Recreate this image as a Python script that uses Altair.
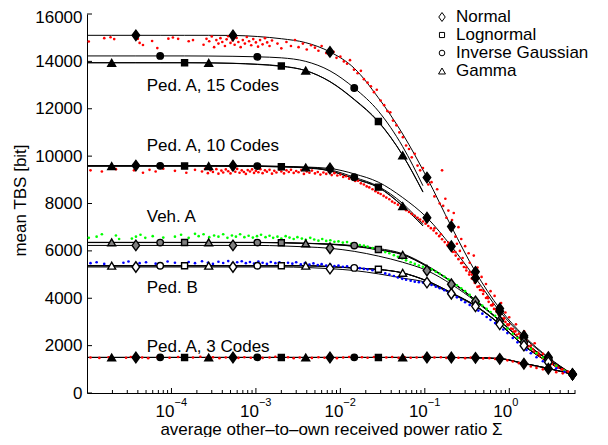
import altair as alt
import pandas as pd

FONT = "Liberation Sans"

# ---------------- data ----------------
SIGMA = [1.0e-5, 1.96e-5, 3.79e-5, 7.35e-5, 1.43e-4, 2.76e-4, 5.35e-4, 1.04e-3,
         2.0e-3, 3.89e-3, 7.53e-3, 1.46e-2, 2.82e-2, 5.47e-2, 0.106, 0.206,
         0.398, 0.771, 1.49, 2.90, 5.61]
SIGMA_CUT = [1.0e-5, 1.96e-5, 3.79e-5, 7.35e-5, 1.43e-4, 2.76e-4, 5.35e-4, 1.04e-3,
             2.0e-3, 3.89e-3, 7.53e-3, 1.46e-2, 2.82e-2, 5.47e-2, 0.095]

PEDA15_NORMAL = [15100, 15100, 15100, 15100, 15100, 15100, 15095, 15050, 14956, 14790, 14400,
                 13710, 12460, 10935, 9094, 7027, 5114, 3563, 2412, 1509, 790]
PEDA15_LOGNORMAL = [13945, 13945, 13945, 13945, 13945, 13940, 13920, 13880, 13805, 13610, 13150,
                    12400, 11464, 10040, 8500]
PEDA15_INVGAUSS = [14230, 14230, 14230, 14230, 14230, 14225, 14215, 14192, 14150, 14000, 13600,
                   12877, 11900, 10400, 8750]
PEDA15_GAMMA = [13940, 13940, 13940, 13940, 13940, 13935, 13915, 13870, 13790, 13610, 13140,
                12380, 11440, 10033, 8480]

PEDA10_NORMAL = [9600, 9600, 9600, 9600, 9600, 9600, 9595, 9590, 9570, 9540, 9480,
                 9250, 8900, 8250, 7401, 6195, 4850, 3450, 2350, 1480, 790]
PEDA10_LOGNORMAL = [9580, 9580, 9580, 9580, 9580, 9580, 9575, 9570, 9550, 9500, 9380,
                    9050, 8690, 7900, 7060]
PEDA10_INVGAUSS = [9590, 9590, 9590, 9590, 9590, 9590, 9585, 9580, 9560, 9520, 9420,
                   9106, 8720, 8000, 7120]
PEDA10_GAMMA = [9580, 9580, 9580, 9580, 9580, 9580, 9575, 9568, 9545, 9522, 9370,
                9040, 8670, 7888, 7050]

VEHA_NORMAL = [6230, 6230, 6230, 6230, 6230, 6230, 6230, 6230, 6210, 6170, 6110,
               5980, 5780, 5520, 5170, 4590, 3870, 3040, 2140, 1400, 790]
VEHA_LOGNORMAL = [6355, 6355, 6355, 6355, 6355, 6355, 6355, 6355, 6345, 6320, 6280,
                  6200, 6058, 5850, 5350, 4700, 3920, 3060, 2150, 1400, 790]
VEHA_INVGAUSS = [6350, 6350, 6350, 6350, 6350, 6350, 6350, 6350, 6345, 6320, 6290,
                 6224, 6100, 5880, 5380, 4720, 3930, 3070, 2160, 1410, 790]
VEHA_GAMMA = [6360, 6360, 6360, 6360, 6360, 6360, 6360, 6360, 6345, 6315, 6275,
              6190, 6040, 5834, 5340, 4690, 3910, 3050, 2150, 1400, 790]

PEDB_NORMAL = [5320, 5320, 5320, 5320, 5320, 5320, 5320, 5320, 5320, 5300, 5250,
               5170, 5030, 4850, 4660, 4190, 3660, 2900, 2000, 1300, 790]
PEDB_LOGNORMAL = [5370, 5370, 5370, 5370, 5370, 5370, 5370, 5370, 5370, 5370, 5335,
                  5275, 5226, 5065, 4730, 4230, 3680, 2910, 2005, 1305, 790]
PEDB_INVGAUSS = [5370, 5370, 5370, 5370, 5370, 5370, 5370, 5370, 5370, 5370, 5340,
                 5281, 5215, 5070, 4740, 4240, 3690, 2920, 2010, 1310, 790]
PEDB_GAMMA = [5375, 5375, 5375, 5375, 5375, 5375, 5375, 5375, 5375, 5375, 5335,
              5270, 5210, 5073, 4720, 4220, 3680, 2910, 2005, 1305, 790]

PEDA3_NORMAL = [1500, 1500, 1500, 1500, 1500, 1500, 1500, 1500, 1500, 1500, 1500,
                1500, 1500, 1500, 1500, 1500, 1484, 1443, 1235, 1026, 790]
PEDA3_LOGNORMAL = [1500, 1500, 1500, 1500, 1500, 1500, 1500, 1500, 1500, 1500, 1500,
                   1500, 1500, 1500, 1500, 1500, 1490, 1455, 1250, 1040, 790]
PEDA3_INVGAUSS = [1505, 1505, 1505, 1505, 1505, 1505, 1505, 1505, 1505, 1505, 1505,
                  1505, 1505, 1505, 1505, 1500, 1490, 1455, 1250, 1040, 790]
PEDA3_GAMMA = [1500, 1500, 1500, 1500, 1500, 1500, 1500, 1500, 1500, 1500, 1500,
               1500, 1500, 1500, 1500, 1500, 1490, 1455, 1250, 1040, 790]

# marker positions (indices into the curve arrays)
MARKER_IDX = {
    "Normal": [2, 6, 10, 14, 15, 16, 17, 18, 19, 20],
    "Lognormal": [4, 8, 12],
    "Inverse Gaussian": [3, 7, 11],
    "Gamma": [1, 5, 9, 13],
}

PEDA15_DOTS = [
    (1.05e-5, 14840), (1.6e-5, 14980), (1.9e-5, 15020), (2.1e-5, 14940), (4.0e-5, 14950),
    (4.2e-5, 14780), (4.6e-5, 14690), (5.9e-5, 14860), (6.8e-5, 14560), (9.2e-5, 14960),
    (1.04e-4, 15010), (1.2e-4, 14950), (1.6e-4, 14850), (1.8e-4, 14900),
    (2.4e-4, 14700), (2.6e-4, 14950), (2.8e-4, 14850), (3.0e-4, 15050), (3.2e-4, 14600),
    (3.4e-4, 14900), (3.6e-4, 14750), (3.8e-4, 14980), (4.0e-4, 14820), (4.3e-4, 14650),
    (4.5e-4, 14930), (4.7e-4, 15060), (5.0e-4, 14780), (5.3e-4, 14880), (5.6e-4, 14700),
    (5.9e-4, 14990), (6.2e-4, 14820), (6.6e-4, 14600), (7.0e-4, 14900), (7.4e-4, 14750),
    (7.8e-4, 15030), (8.3e-4, 14850), (8.8e-4, 14680), (9.3e-4, 14940), (1.0e-3, 14800),
    (1.06e-3, 14620), (1.12e-3, 14900), (1.2e-3, 14720), (1.28e-3, 14980), (1.36e-3, 14800),
    (1.45e-3, 14650), (1.55e-3, 14880),
    (1.8e-3, 14750), (2.0e-3, 14550), (2.3e-3, 14820), (2.6e-3, 14650), (2.9e-3, 14900),
    (3.2e-3, 14600), (3.6e-3, 14750), (4.0e-3, 14500), (4.5e-3, 14680), (5.0e-3, 14580),
    (5.5e-3, 14450), (6.0e-3, 14650),
    (6.8e-3, 14350), (7.5e-3, 14250), (8.3e-3, 14400), (9.0e-3, 14150), (1.0e-2, 14200),
    (1.1e-2, 14000), (1.2e-2, 13900), (1.3e-2, 14050), (1.45e-2, 13650), (1.6e-2, 13500),
    (1.75e-2, 13600), (1.9e-2, 13250), (2.1e-2, 13100), (2.3e-2, 12950), (2.5e-2, 12700),
    (2.7e-2, 12800), (3.0e-2, 12350), (3.3e-2, 12150), (3.6e-2, 11900), (3.9e-2, 11850),
    (4.2e-2, 11500), (4.6e-2, 11300), (5.0e-2, 11000), (5.5e-2, 10800), (6.0e-2, 10450),
    (6.5e-2, 10300), (7.0e-2, 9950), (7.6e-2, 10100), (8.2e-2, 9600), (8.8e-2, 9400),
    (9.5e-2, 9500), (0.1, 9100), (0.11, 8800), (0.12, 8900), (0.13, 8300),
    (0.14, 8600), (0.15, 8000), (0.16, 9400), (0.165, 7900), (0.175, 8200), (0.18, 7400),
    (0.19, 7700), (0.2, 6900), (0.21, 7300), (0.22, 7600), (0.23, 6600), (0.24, 6300),
    (0.25, 7000), (0.26, 6000), (0.27, 6500), (0.28, 5700), (0.3, 6200), (0.31, 5300),
    (0.33, 5900), (0.34, 5500), (0.36, 5000), (0.38, 5800), (0.4, 4700), (0.42, 5300),
    (0.44, 4500), (0.47, 4900), (0.5, 4300), (0.53, 4600), (0.56, 4000), (0.6, 4300),
    (0.63, 3700), (0.67, 4100), (0.7, 3500), (0.75, 3300), (0.8, 3800), (0.85, 3100),
    (0.9, 3400), (0.95, 2900), (1.0, 3200), (1.1, 2700), (1.2, 2900), (1.3, 2500),
    (1.4, 2300), (1.5, 2600), (1.6, 2200), (1.8, 2000), (2.0, 2100), (2.2, 1700),
    (2.5, 1650), (2.8, 1400), (3.2, 1300), (3.6, 1150), (4.2, 1000), (5.0, 900), (5.6, 800),
]

PEDA10_DOTS = [
    (1.1e-5, 9400), (1.5e-5, 9350), (2.2e-5, 9450), (3.6e-5, 9400), (4.6e-5, 9300),
    (5.5e-5, 9420), (6.5e-5, 9350), (8.0e-5, 9470), (1.1e-4, 9380), (1.5e-4, 9300),
    (1.9e-4, 9420), (2.3e-4, 9350), (2.5e-4, 9460), (2.7e-4, 9280), (2.9e-4, 9400),
    (3.1e-4, 9330), (3.4e-4, 9450), (3.6e-4, 9260), (3.9e-4, 9390), (4.1e-4, 9310),
    (4.4e-4, 9440), (4.7e-4, 9360), (5.0e-4, 9270), (5.3e-4, 9420), (5.7e-4, 9340),
    (6.0e-4, 9460), (6.4e-4, 9300), (6.8e-4, 9400), (7.2e-4, 9330), (7.6e-4, 9250),
    (8.0e-4, 9410), (8.5e-4, 9350), (9.0e-4, 9440), (9.5e-4, 9290), (1.0e-3, 9380),
    (1.07e-3, 9320), (1.13e-3, 9450), (1.2e-3, 9280), (1.28e-3, 9400), (1.35e-3, 9340),
    (1.45e-3, 9420), (1.55e-3, 9260), (1.65e-3, 9380), (1.75e-3, 9310), (1.9e-3, 9430),
    (2.0e-3, 9350), (2.15e-3, 9270), (2.3e-3, 9400), (2.45e-3, 9330), (2.6e-3, 9420),
    (2.8e-3, 9290), (3.0e-3, 9370), (3.2e-3, 9320), (3.45e-3, 9410), (3.7e-3, 9250),
    (4.0e-3, 9350), (4.3e-3, 9300), (4.6e-3, 9390), (5.0e-3, 9270), (5.4e-3, 9330),
    (5.8e-3, 9220), (6.3e-3, 9310), (6.8e-3, 9250), (7.3e-3, 9330), (7.9e-3, 9200),
    (8.5e-3, 9280), (9.2e-3, 9180), (1.0e-2, 9220), (1.08e-2, 9120), (1.17e-2, 9150),
    (1.27e-2, 9050), (1.38e-2, 9070), (1.5e-2, 8950), (1.62e-2, 8960), (1.75e-2, 8850),
    (1.9e-2, 8800), (2.05e-2, 8720), (2.2e-2, 8680), (2.4e-2, 8600), (2.6e-2, 8520),
    (2.8e-2, 8450), (3.0e-2, 8400), (3.25e-2, 8320), (3.5e-2, 8250), (3.8e-2, 8180),
    (4.1e-2, 8080), (4.4e-2, 8020), (4.8e-2, 7950), (5.2e-2, 7870), (5.6e-2, 7800),
    (6.0e-2, 7720), (6.5e-2, 7640), (7.0e-2, 7560), (7.6e-2, 7480), (8.2e-2, 7400),
    (8.8e-2, 7320), (9.5e-2, 7240), (0.102, 7150), (0.11, 7050), (0.118, 6960),
    (0.127, 6860), (0.137, 6740), (0.148, 6620), (0.16, 6490), (0.172, 6370),
    (0.185, 6240), (0.2, 6100), (0.215, 5960), (0.232, 5800), (0.25, 5650), (0.27, 5480),
    (0.29, 5320), (0.31, 5170), (0.335, 5000), (0.36, 4830), (0.39, 4650), (0.42, 4480),
    (0.45, 4350), (0.49, 4180), (0.53, 4010), (0.57, 3850), (0.61, 3700), (0.66, 3550),
    (0.71, 3420), (0.77, 3280), (0.83, 3140), (0.9, 3000), (0.97, 2860), (1.05, 2720),
    (1.13, 2590), (1.22, 2460), (1.32, 2330), (1.43, 2210), (1.55, 2090), (1.68, 1970),
    (1.82, 1860), (1.97, 1750), (2.13, 1650), (2.3, 1560), (2.5, 1470), (2.7, 1390),
    (2.95, 1300), (3.2, 1220), (3.5, 1140), (3.8, 1070), (4.2, 990), (4.6, 920),
    (5.1, 850), (5.5, 800),
    (0.105, 7300), (0.13, 6950), (0.155, 6700), (0.19, 6350), (0.23, 5950), (0.28, 5500),
    (0.34, 5100), (0.4, 4700), (0.47, 4350), (0.55, 4050), (0.64, 3750), (0.75, 3420),
    (0.87, 3150), (1.0, 2900), (1.18, 2600), (1.38, 2350), (1.6, 2100), (1.9, 1850),
    (2.2, 1650), (2.6, 1480), (3.0, 1330), (3.6, 1150), (4.4, 980),
]

VEHA_DOTS = [
    (1.05e-5, 6550), (1.3e-5, 6600), (1.5e-5, 6700), (2.2e-5, 6650), (2.4e-5, 6500),
    (3.4e-5, 6520), (3.8e-5, 6600), (4.3e-5, 6680), (4.9e-5, 6550), (6.0e-5, 6620),
    (8.0e-5, 6560), (1.1e-4, 6600), (1.3e-4, 6680), (1.6e-4, 6550), (1.9e-4, 6720),
    (2.1e-4, 6620), (2.4e-4, 6700), (2.8e-4, 6580), (3.2e-4, 6650), (3.6e-4, 6600),
    (4.1e-4, 6700), (4.6e-4, 6550), (5.2e-4, 6650), (5.8e-4, 6600), (6.5e-4, 6700),
    (7.3e-4, 6580), (8.2e-4, 6640), (9.2e-4, 6560), (1.03e-3, 6620), (1.15e-3, 6680),
    (1.3e-3, 6580), (1.45e-3, 6640), (1.6e-3, 6550), (1.8e-3, 6600), (2.0e-3, 6520),
    (2.25e-3, 6620), (2.5e-3, 6560), (2.8e-3, 6500), (3.1e-3, 6580), (3.5e-3, 6520),
    (3.9e-3, 6470), (4.4e-3, 6550), (4.9e-3, 6480), (5.5e-3, 6430), (6.1e-3, 6500),
    (6.8e-3, 6420), (7.6e-3, 6450), (8.5e-3, 6380), (9.5e-3, 6400), (1.07e-2, 6350),
    (1.2e-2, 6370), (1.35e-2, 6300), (1.5e-2, 6320), (1.7e-2, 6250), (1.9e-2, 6220),
    (2.1e-2, 6180), (2.4e-2, 6120), (2.7e-2, 6080), (3.0e-2, 6020), (3.4e-2, 5950),
    (3.8e-2, 5900), (4.3e-2, 5820), (4.8e-2, 5750), (5.4e-2, 5680), (6.0e-2, 5600),
    (6.8e-2, 5520), (7.6e-2, 5450), (8.5e-2, 5380), (9.5e-2, 5330),
    (0.105, 5300), (0.12, 5220), (0.135, 5120), (0.15, 5030), (0.17, 4920), (0.19, 4800),
    (0.21, 4680), (0.24, 4550), (0.27, 4420), (0.3, 4300), (0.34, 4140), (0.38, 3980),
    (0.43, 3820), (0.48, 3690), (0.54, 3550), (0.6, 3420), (0.68, 3260), (0.76, 3090),
    (0.85, 2900), (0.95, 2720), (1.1, 2500), (1.25, 2320), (1.4, 2200), (1.6, 2000),
    (1.8, 1860), (2.1, 1680), (2.5, 1500), (3.0, 1330), (3.6, 1150), (4.5, 950), (5.3, 820),
]

PEDB_DOTS = [
    (1.1e-5, 5480), (1.3e-5, 5520), (1.6e-5, 5450), (2.7e-5, 5500), (3.1e-5, 5550),
    (4.2e-5, 5480), (5.0e-5, 5520), (6.5e-5, 5460), (9.0e-5, 5550), (1.1e-4, 5500),
    (1.35e-4, 5450), (1.6e-4, 5530), (1.9e-4, 5480), (2.3e-4, 5560), (2.7e-4, 5500),
    (3.1e-4, 5450), (3.6e-4, 5540), (4.1e-4, 5490), (4.7e-4, 5570), (5.3e-4, 5470),
    (6.0e-4, 5520), (6.8e-4, 5560), (7.6e-4, 5480), (8.5e-4, 5530), (9.5e-4, 5460),
    (1.07e-3, 5550), (1.2e-3, 5500), (1.35e-3, 5450), (1.5e-3, 5530), (1.7e-3, 5480),
    (1.9e-3, 5520), (2.1e-3, 5440), (2.4e-3, 5500), (2.7e-3, 5460), (3.0e-3, 5520),
    (3.4e-3, 5430), (3.8e-3, 5480), (4.3e-3, 5420), (4.8e-3, 5470), (5.4e-3, 5400),
    (6.0e-3, 5440), (6.8e-3, 5380), (7.6e-3, 5420), (8.5e-3, 5360), (9.5e-3, 5380),
    (1.07e-2, 5330), (1.2e-2, 5350), (1.35e-2, 5300), (1.5e-2, 5310), (1.7e-2, 5270),
    (1.9e-2, 5240), (2.1e-2, 5220), (2.4e-2, 5180), (2.7e-2, 5140), (3.0e-2, 5100),
    (3.4e-2, 5050), (3.8e-2, 5000), (4.3e-2, 4940), (4.8e-2, 4880), (5.4e-2, 4820),
    (6.0e-2, 4780), (6.8e-2, 4740), (7.6e-2, 4700), (8.5e-2, 4680), (9.5e-2, 4660),
    (0.105, 4630), (0.12, 4560), (0.135, 4490), (0.15, 4420), (0.17, 4340), (0.19, 4250),
    (0.21, 4160), (0.24, 4040), (0.27, 3930), (0.3, 3830), (0.34, 3720), (0.38, 3620),
    (0.43, 3480), (0.48, 3350), (0.54, 3210), (0.6, 3090), (0.68, 2950), (0.76, 2830),
    (0.85, 2680), (0.95, 2530), (1.1, 2320), (1.25, 2140), (1.4, 1990), (1.6, 1820),
    (1.8, 1680), (2.1, 1510), (2.5, 1340), (3.0, 1180), (3.6, 1040), (4.5, 890), (5.3, 800),
]

PEDA3_DOTS = [
    (1.1e-5, 1500), (1.4e-5, 1480), (1.8e-5, 1510), (2.9e-5, 1490), (3.3e-5, 1520),
    (4.5e-5, 1500), (5.3e-5, 1470), (6.8e-5, 1510), (9.5e-5, 1490), (1.2e-4, 1520),
    (1.5e-4, 1480), (1.8e-4, 1500), (2.2e-4, 1530), (2.6e-4, 1490), (3.1e-4, 1510),
    (3.7e-4, 1470), (4.4e-4, 1500), (5.2e-4, 1520), (6.2e-4, 1480), (7.3e-4, 1510),
    (8.7e-4, 1490), (1.03e-3, 1520), (1.2e-3, 1480), (1.45e-3, 1500), (1.7e-3, 1530),
    (2.0e-3, 1490), (2.4e-3, 1510), (2.8e-3, 1470), (3.3e-3, 1500), (3.9e-3, 1520),
    (4.6e-3, 1480), (5.5e-3, 1510), (6.5e-3, 1490), (7.7e-3, 1520), (9.1e-3, 1470),
    (1.08e-2, 1500), (1.27e-2, 1520), (1.5e-2, 1480), (1.8e-2, 1510), (2.1e-2, 1490),
    (2.5e-2, 1520), (3.0e-2, 1470), (3.5e-2, 1500), (4.1e-2, 1520), (4.9e-2, 1480),
    (5.8e-2, 1510), (6.8e-2, 1490), (8.0e-2, 1500), (9.5e-2, 1520), (0.112, 1470),
    (0.13, 1500), (0.155, 1510), (0.18, 1480), (0.21, 1500), (0.25, 1490), (0.3, 1470),
    (0.35, 1500), (0.41, 1480), (0.49, 1460), (0.58, 1470), (0.68, 1440), (0.8, 1430),
    (0.95, 1380), (1.1, 1330), (1.3, 1260), (1.5, 1200), (1.8, 1120), (2.1, 1060),
    (2.5, 1000), (3.0, 940), (3.6, 880), (4.3, 830), (5.2, 790),
]

SCENARIOS = ["Ped. A, 15 Codes", "Ped. A, 10 Codes", "Veh. A", "Ped. B", "Ped. A, 3 Codes"]
DISTS = ["Normal", "Lognormal", "Inverse Gaussian", "Gamma"]

LABEL_X = [5.1e-5, 5.1e-5, 5.1e-5, 5.1e-5, 5.1e-5]
LABEL_Y = [12950, 10410, 7430, 4450, 1950]

Y_TICKS = [0, 2000, 4000, 6000, 8000, 10000, 12000, 14000, 16000]
X_MAJOR = [1e-4, 1e-3, 1e-2, 1e-1, 1.0]
X_EXP = ["\u22124", "\u22123", "\u22122", "\u22121", "0"]
X_MINOR = [2e-5, 3e-5, 4e-5, 5e-5, 6e-5, 7e-5, 8e-5, 9e-5,
           2e-4, 3e-4, 4e-4, 5e-4, 6e-4, 7e-4, 8e-4, 9e-4,
           2e-3, 3e-3, 4e-3, 5e-3, 6e-3, 7e-3, 8e-3, 9e-3,
           2e-2, 3e-2, 4e-2, 5e-2, 6e-2, 7e-2, 8e-2, 9e-2,
           0.2, 0.3, 0.4, 0.5, 0.6, 0.7, 0.8, 0.9,
           2.0, 3.0, 4.0, 5.0, 6.0]

# ---------------- tables ----------------
CURVES = [
    ("Ped. A, 15 Codes", "Normal", SIGMA, PEDA15_NORMAL),
    ("Ped. A, 15 Codes", "Lognormal", SIGMA_CUT, PEDA15_LOGNORMAL),
    ("Ped. A, 15 Codes", "Inverse Gaussian", SIGMA_CUT, PEDA15_INVGAUSS),
    ("Ped. A, 15 Codes", "Gamma", SIGMA_CUT, PEDA15_GAMMA),
    ("Ped. A, 10 Codes", "Normal", SIGMA, PEDA10_NORMAL),
    ("Ped. A, 10 Codes", "Lognormal", SIGMA_CUT, PEDA10_LOGNORMAL),
    ("Ped. A, 10 Codes", "Inverse Gaussian", SIGMA_CUT, PEDA10_INVGAUSS),
    ("Ped. A, 10 Codes", "Gamma", SIGMA_CUT, PEDA10_GAMMA),
    ("Veh. A", "Normal", SIGMA, VEHA_NORMAL),
    ("Veh. A", "Lognormal", SIGMA, VEHA_LOGNORMAL),
    ("Veh. A", "Inverse Gaussian", SIGMA, VEHA_INVGAUSS),
    ("Veh. A", "Gamma", SIGMA, VEHA_GAMMA),
    ("Ped. B", "Normal", SIGMA, PEDB_NORMAL),
    ("Ped. B", "Lognormal", SIGMA, PEDB_LOGNORMAL),
    ("Ped. B", "Inverse Gaussian", SIGMA, PEDB_INVGAUSS),
    ("Ped. B", "Gamma", SIGMA, PEDB_GAMMA),
    ("Ped. A, 3 Codes", "Normal", SIGMA, PEDA3_NORMAL),
    ("Ped. A, 3 Codes", "Lognormal", SIGMA, PEDA3_LOGNORMAL),
    ("Ped. A, 3 Codes", "Inverse Gaussian", SIGMA, PEDA3_INVGAUSS),
    ("Ped. A, 3 Codes", "Gamma", SIGMA, PEDA3_GAMMA),
]

line_rows, marker_rows = [], []
for scen, dist, xs, ys in CURVES:
    for x, y in zip(xs, ys):
        line_rows.append({"x": x, "y": y, "curve": scen + " | " + dist})
    for i in MARKER_IDX[dist]:
        if i < len(ys):
            marker_rows.append({"x": xs[i], "y": ys[i], "scen": scen, "dist": dist})
lines_df = pd.DataFrame(line_rows)
markers_df = pd.DataFrame(marker_rows)

dot_rows = []
for name, pts in [("PA15", PEDA15_DOTS), ("PA10", PEDA10_DOTS), ("VA", VEHA_DOTS),
                  ("PB", PEDB_DOTS), ("PA3", PEDA3_DOTS)]:
    for x, y in pts:
        dot_rows.append({"x": x, "y": y, "series": name})
dots_df = pd.DataFrame(dot_rows)

labels_df = pd.DataFrame({"x": LABEL_X, "y": LABEL_Y, "label": SCENARIOS})
xmaj_df = pd.DataFrame({"x": X_MAJOR, "exp": X_EXP, "base": ["10"] * len(X_MAJOR)})
xmin_df = pd.DataFrame({"x": X_MINOR})
ytick_df = pd.DataFrame({"y": Y_TICKS})

# ---------------- layout (plot area: page x 87..575, y 14..393) ----------------
W, H = 488, 379
TOP = 6  # padding above plot (page y of plot top = 8 + TOP)

X = alt.X("x:Q",
          scale=alt.Scale(type="log", domain=[1e-5, 6.0], nice=False),
          axis=alt.Axis(labels=False, ticks=False, grid=False, domainColor="black",
                        domainWidth=1,
                        title="average other\u2013to\u2013own received power ratio \u03a3",
                        titleFont=FONT, titleFontSize=17, titleFontWeight="normal",
                        titleColor="black", titleX=244, titleY=41,
                        titleAlign="center", titleBaseline="alphabetic"))
Y = alt.Y("y:Q",
          scale=alt.Scale(domain=[0, 16000], nice=False),
          axis=alt.Axis(values=Y_TICKS, format="d", ticks=False, grid=False,
                        domainColor="black", domainWidth=1,
                        labelFont=FONT, labelFontSize=17, labelColor="black",
                        labelPadding=5,
                        labelOffset={"condition": {"test": "datum.value == 16000", "value": 3},
                                     "value": 0},
                        title="mean TBS [bit]", titleFont=FONT, titleFontSize=17,
                        titleFontWeight="normal", titleColor="black", titleAngle=-90,
                        titleX=-62, titleY=186, titleAlign="center",
                        titleBaseline="alphabetic"))

lines = alt.Chart(lines_df).mark_line(color="black", strokeWidth=1, interpolate="monotone").encode(
    x=X, y=Y, detail="curve:N")

dots = alt.Chart(dots_df).mark_circle(size=7, opacity=1).encode(
    x=X, y=Y,
    color=alt.Color("series:N",
                    scale=alt.Scale(domain=["PA15", "PA10", "VA", "PB", "PA3"],
                                    range=["#ff0000", "#ff0000", "#00ff00", "#0000ff", "#ff0000"]),
                    legend=None))

DIAMOND = "M0,-1L0.72,0L0,1L-0.72,0Z"
FILL = alt.Fill("scen:N",
                scale=alt.Scale(domain=SCENARIOS,
                                range=["black", "black", "#808080", "white", "black"]),
                legend=None)
marker_style = {
    "Gamma": ("triangle-up", 62),
    "Lognormal": ("square", 36),
    "Inverse Gaussian": ("circle", 42),
    "Normal": (DIAMOND, 110),
}
marker_layers = []
for dist in ["Gamma", "Lognormal", "Inverse Gaussian", "Normal"]:
    shp, sz = marker_style[dist]
    marker_layers.append(
        alt.Chart(markers_df).transform_filter(alt.datum.dist == dist)
        .mark_point(shape=shp, size=sz, filled=True, stroke="black", strokeWidth=1.4,
                    opacity=1, fillOpacity=1)
        .encode(x=X, y=Y, fill=FILL))

ytick = alt.Chart(ytick_df).mark_rule(color="black", strokeWidth=1).encode(
    y=Y, x=alt.value(0), x2=alt.value(5))
xmaj = alt.Chart(xmaj_df).mark_rule(color="black", strokeWidth=1).encode(
    x=X, y=alt.value(H), y2=alt.value(H - 5))
xmin = alt.Chart(xmin_df).mark_rule(color="black", strokeWidth=1).encode(
    x=X, y=alt.value(H), y2=alt.value(H - 3))

xlab_base = alt.Chart(xmaj_df).mark_text(align="right", baseline="alphabetic", dx=3,
                                          font=FONT, fontSize=17, color="black").encode(
    x=X, y=alt.value(H + 24), text="base:N")
xlab_exp = alt.Chart(xmaj_df).mark_text(align="left", baseline="alphabetic", dx=3,
                                         font=FONT, fontSize=11, color="black").encode(
    x=X, y=alt.value(H + 13), text="exp:N")

annot = alt.Chart(labels_df).mark_text(align="left", baseline="middle", font=FONT,
                                        fontSize=17, color="black").encode(
    x=X, y=Y, text="label:N")

LEGEND_SHAPES = [DIAMOND, "square", "circle", "triangle-up"]
LEGEND_SIZES = [80, 26, 32, 48]
LEGEND_ROWS = [3, 21, 39, 57]
legend_layers = []
for name, shp, sz, yy in zip(DISTS, LEGEND_SHAPES, LEGEND_SIZES, LEGEND_ROWS):
    ldf = pd.DataFrame({"label": [name]})
    legend_layers.append(
        alt.Chart(ldf).mark_point(shape=shp, size=sz, filled=True, fill="white",
                                  stroke="black", strokeWidth=1, opacity=1)
        .encode(x=alt.value(355), y=alt.value(yy)))
    legend_layers.append(
        alt.Chart(ldf).mark_text(align="left", baseline="middle", font=FONT, fontSize=17,
                                 color="black")
        .encode(x=alt.value(369), y=alt.value(yy), text="label:N"))

chart = alt.layer(
    lines, dots, *marker_layers, ytick, xmaj, xmin, xlab_base, xlab_exp, annot, *legend_layers
).properties(
    width=W, height=H,
    padding={"left": 79, "top": TOP, "right": 25, "bottom": 44},
    autosize=alt.AutoSizeParams(type="none"),
    background="white",
).configure_view(stroke=None)

chart.save("out.html", embed_options={"renderer": "svg", "actions": False})
